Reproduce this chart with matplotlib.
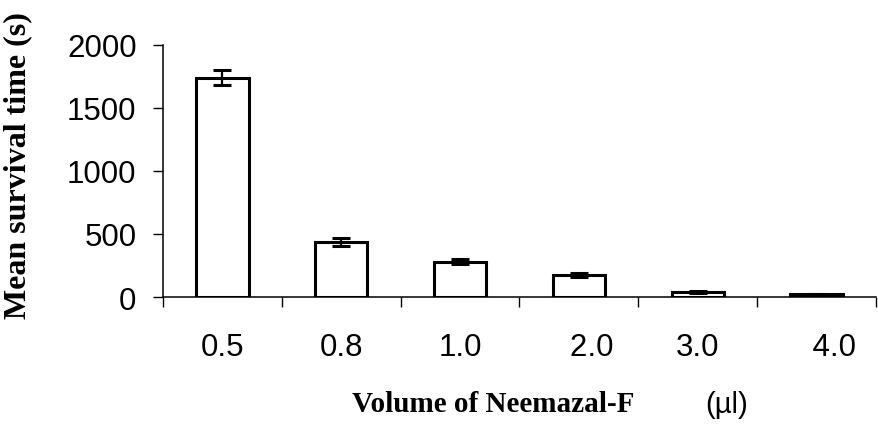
import matplotlib
matplotlib.use('Agg')
import matplotlib.pyplot as plt
import numpy as np

# data
volumes = ['0.5', '0.8', '1.0', '   2.0', '3.0', '    4.0']
mean_survival = [1740, 435, 280, 175, 40, 22]
survival_err = [60, 30, 18, 14, 5, 4]

y_ticks = [0, 500, 1000, 1500, 2000]


def main():
    fig = plt.figure(figsize=(8.79, 4.27), dpi=100)
    ax = fig.add_axes([163 / 879, 1 - 298 / 427, (876 - 163) / 879, (298 - 46) / 427])

    x = np.arange(len(volumes))
    ax.bar(x, mean_survival, width=0.44, color='white', edgecolor='black',
           linewidth=2.2, zorder=2)
    ax.errorbar(x, mean_survival, yerr=survival_err, fmt='none', ecolor='black',
                elinewidth=1.6, capsize=6.5, capthick=2.2, zorder=3)

    ax.set_xlim(-0.5, len(volumes) - 0.5)
    ax.set_ylim(0, 2000)
    ax.set_yticks(y_ticks)
    ax.set_yticklabels([str(t) for t in y_ticks], family='Liberation Sans', fontsize=22.5)

    # labels at category centres, tick marks at the boundaries
    ax.set_xticks(x)
    ax.set_xticklabels(volumes, family='Liberation Sans', fontsize=22.5)
    ax.set_xticks(np.arange(-0.5, len(volumes)), minor=True)
    ax.tick_params(axis='x', which='major', length=0, pad=25)
    ax.tick_params(axis='x', which='minor', length=7, width=1, direction='out')
    ax.tick_params(axis='y', length=7, width=1, direction='out', pad=12)

    for side in ['top', 'right']:
        ax.spines[side].set_visible(False)
    for side in ['left', 'bottom']:
        ax.spines[side].set_linewidth(1.1)

    fig.text(18 / 879, 1 - 166 / 427, 'Mean survival time (s)', rotation=90,
             ha='center', va='center', family='Liberation Serif',
             fontweight='bold', fontsize=23)
    fig.text(493 / 879, 1 - 405 / 427, 'Volume of Neemazal-F', ha='center',
             va='center', family='Liberation Serif', fontweight='bold', fontsize=21)
    fig.text(727 / 879, 1 - 405 / 427, '(\u00b5l)', ha='center', va='center',
             family='Liberation Sans', fontsize=21)

    fig.savefig('out.png', dpi=100)
    plt.close(fig)


if __name__ == '__main__':
    main()
